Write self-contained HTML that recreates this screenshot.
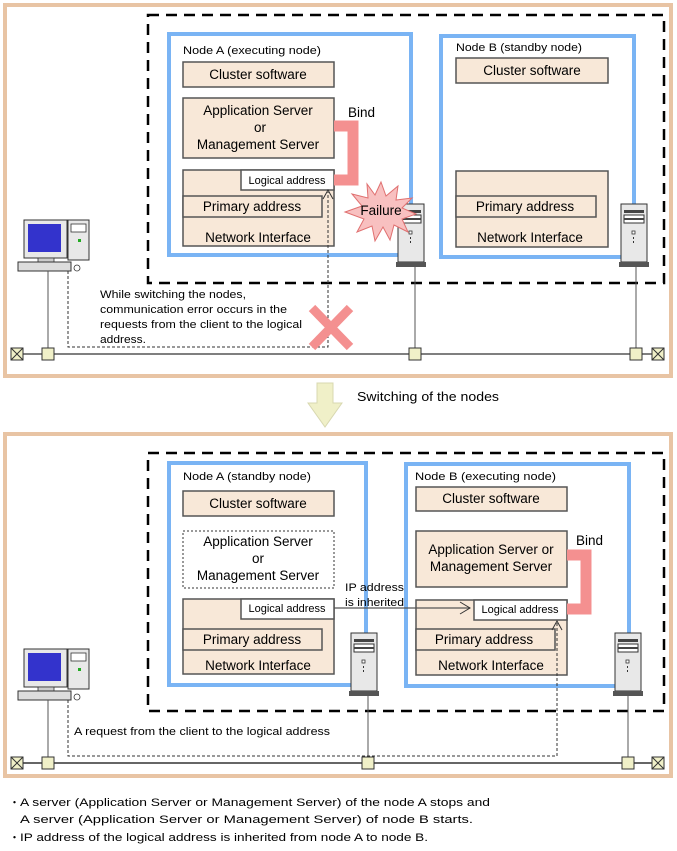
<!DOCTYPE html>
<html><head><meta charset="utf-8"><style>
html,body{margin:0;padding:0;background:#fff;}
svg{display:block;font-family:"Liberation Sans",Arial,sans-serif;}
.b{fill:#f8e8d8;stroke:#555;stroke-width:1.5;}
.t{font-size:13.5px;fill:#000;text-anchor:middle;}
.s{font-size:11px;fill:#000;}
.m{font-size:12.5px;fill:#000;}
</style></head><body>
<svg width="677" height="851" viewBox="0 0 677 851" xmlns="http://www.w3.org/2000/svg">
<defs>
<g id="srv">
 <rect x="0" y="0" width="26" height="58" fill="#e8e8e8" stroke="#333" stroke-width="1"/>
 <rect x="3" y="6" width="20" height="3" fill="#444"/>
 <rect x="3" y="11" width="20" height="8" fill="#fff" stroke="#333" stroke-width="1"/>
 <rect x="3" y="14" width="20" height="2" fill="#444"/>
 <rect x="11" y="27" width="3" height="3" fill="#fff" stroke="#333" stroke-width="0.8"/>
 <line x1="12.5" y1="33" x2="12.5" y2="40" stroke="#333" stroke-dasharray="2,2"/>
 <rect x="-2" y="58" width="30" height="5" fill="#555"/>
</g>
<g id="pc">
 <rect x="0" y="0" width="43" height="38" fill="#e8e8e8" stroke="#333"/>
 <rect x="4" y="4" width="33" height="28" fill="#3333cc"/>
 <rect x="14" y="38" width="16" height="4" fill="#ccc" stroke="#333" stroke-width="0.8"/>
 <rect x="44" y="0" width="21" height="40" fill="#e8e8e8" stroke="#333"/>
 <rect x="47" y="4" width="15" height="8" fill="#fff" stroke="#333" stroke-width="0.8"/>
 <rect x="54" y="19" width="3" height="3" fill="#2a2"/>
 <rect x="-6" y="42" width="53" height="9" fill="#ddd" stroke="#333"/>
 <circle cx="53" cy="48" r="3" fill="#fff" stroke="#333" stroke-width="0.8"/>
</g>
<g id="term"><rect x="-6" y="-6" width="12" height="12" fill="#f0f0c8" stroke="#333"/><path d="M-6,-6L6,6M6,-6L-6,6" stroke="#333"/></g>
<g id="con"><rect x="-6" y="-6" width="12" height="12" fill="#f0f0c8" stroke="#333"/></g>
</defs>

<!-- TOP PANEL -->
<rect x="5" y="5" width="666" height="371" fill="#fff" stroke="#e8c4a4" stroke-width="4"/>
<rect x="148" y="15" width="516" height="268" fill="none" stroke="#000" stroke-width="2.5" stroke-dasharray="11,7"/>
<rect x="169" y="34" width="242" height="221" fill="none" stroke="#7ab4f4" stroke-width="4"/>
<rect x="441" y="36" width="193" height="221" fill="none" stroke="#7ab4f4" stroke-width="4"/>
<text x="183" y="54" class="s" font-size="12" textLength="138" lengthAdjust="spacingAndGlyphs">Node A (executing node)</text>
<text x="456" y="51" class="s" font-size="12" textLength="126" lengthAdjust="spacingAndGlyphs">Node B (standby node)</text>
<rect x="183" y="62" width="151" height="25" class="b"/><text x="258" y="79" class="t">Cluster software</text>
<rect x="183" y="98" width="151" height="60" class="b"/>
<text x="258" y="115" class="t">Application Server</text><text x="260" y="132" class="t">or</text><text x="258" y="149" class="t">Management Server</text>
<rect x="183" y="170" width="151" height="76" class="b"/>
<rect x="241" y="170" width="93" height="20" fill="#fff" stroke="#555" stroke-width="1.5"/>
<text x="287" y="184" class="s" text-anchor="middle">Logical address</text>
<rect x="183" y="196" width="139" height="21" class="b"/><text x="252" y="211" class="t">Primary address</text>
<text x="258" y="242" class="t">Network Interface</text>
<path d="M334,126H353V180H334" fill="none" stroke="#f49090" stroke-width="11"/>
<text x="348" y="117" style="font-size:13.5px;text-anchor:start">Bind</text>
<!-- Node B boxes -->
<rect x="456" y="58" width="152" height="25" class="b"/><text x="532" y="75" class="t">Cluster software</text>
<rect x="456" y="171" width="152" height="76" class="b"/>
<rect x="456" y="196" width="140" height="21" class="b"/><text x="525" y="211" class="t">Primary address</text>
<text x="530" y="242" class="t">Network Interface</text>
<!-- servers -->
<use href="#srv" x="398" y="204"/>
<use href="#srv" x="621" y="204"/>
<!-- failure -->
<polygon points="381,182 386,196 398,186 396,200 412,198 402,208 416,214 402,219 408,232 394,225 390,240 383,227 375,241 372,226 357,232 364,219 345,212 362,206 352,194 368,198 367,184 375,195" fill="#f8c0c0" stroke="#e07070" stroke-width="1"/>
<text x="381" y="215" class="t">Failure</text>
<use href="#pc" x="24" y="220"/>
<!-- network -->
<line x1="17" y1="354" x2="658" y2="354" stroke="#555" stroke-width="1.5"/>
<line x1="48" y1="271" x2="48" y2="348" stroke="#555"/>
<line x1="415" y1="267" x2="415" y2="348" stroke="#555"/>
<line x1="636" y1="267" x2="636" y2="348" stroke="#555"/>
<use href="#term" x="17" y="354"/><use href="#term" x="658" y="354"/>
<use href="#con" x="48" y="354"/><use href="#con" x="415" y="354"/><use href="#con" x="636" y="354"/>
<path d="M68,271V347H328V192" fill="none" stroke="#333" stroke-dasharray="3,2"/>
<path d="M323,199L328,190L333,199" fill="none" stroke="#333"/>
<path d="M312,308L350,347M350,308L312,347" stroke="#f49090" stroke-width="9"/>
<text class="s" font-size="12.5" lengthAdjust="spacingAndGlyphs" x="100" y="298" textLength="146">While switching the nodes,</text>
<text class="s" font-size="12.5" lengthAdjust="spacingAndGlyphs" x="100" y="313" textLength="187">communication error occurs in the</text>
<text class="s" font-size="12.5" lengthAdjust="spacingAndGlyphs" x="100" y="328" textLength="202">requests from the client to the logical</text>
<text class="s" font-size="12.5" lengthAdjust="spacingAndGlyphs" x="100" y="343" textLength="46">address.</text>

<!-- ARROW -->
<polygon points="317,383 333,383 333,403 342,403 325,427 308,403 317,403" fill="#f0f0c8" stroke="#d8d8b0"/>
<text x="357" y="401" class="m" textLength="142" lengthAdjust="spacingAndGlyphs">Switching of the nodes</text>

<!-- BOTTOM PANEL -->
<rect x="5" y="434" width="666" height="342" fill="#fff" stroke="#e8c4a4" stroke-width="4"/>
<rect x="148" y="453" width="516" height="258" fill="none" stroke="#000" stroke-width="2.5" stroke-dasharray="11,7"/>
<rect x="169" y="463" width="197" height="222" fill="none" stroke="#7ab4f4" stroke-width="4"/>
<rect x="406" y="464" width="223" height="222" fill="none" stroke="#7ab4f4" stroke-width="4"/>
<text x="183" y="480" class="s" font-size="12" textLength="128" lengthAdjust="spacingAndGlyphs">Node A (standby node)</text>
<text x="415" y="480" class="s" font-size="12" textLength="141" lengthAdjust="spacingAndGlyphs">Node  B (executing node)</text>
<rect x="183" y="491" width="151" height="25" class="b"/><text x="258" y="508" class="t">Cluster software</text>
<rect x="183" y="531" width="151" height="57" fill="#fff" stroke="#333" stroke-dasharray="2,2"/>
<text x="258" y="546" class="t">Application Server</text><text x="258" y="563" class="t">or</text><text x="258" y="580" class="t">Management Server</text>
<rect x="183" y="599" width="151" height="75" class="b"/>
<rect x="241" y="599" width="93" height="20" fill="#fff" stroke="#555" stroke-width="1.5"/>
<text x="287" y="612" class="s" text-anchor="middle">Logical address</text>
<rect x="183" y="629" width="139" height="21" class="b"/><text x="252" y="644" class="t">Primary address</text>
<text x="258" y="670" class="t">Network Interface</text>
<rect x="416" y="487" width="151" height="24" class="b"/><text x="491" y="503" class="t">Cluster software</text>
<rect x="416" y="531" width="151" height="56" class="b"/>
<text x="491" y="554" class="t">Application Server or</text><text x="491" y="571" class="t">Management Server</text>
<rect x="416" y="600" width="151" height="75" class="b"/>
<rect x="474" y="600" width="93" height="20" fill="#fff" stroke="#555" stroke-width="1.5"/>
<text x="520" y="613" class="s" text-anchor="middle">Logical address</text>
<rect x="416" y="629" width="139" height="21" class="b"/><text x="484" y="644" class="t">Primary address</text>
<text x="491" y="670" class="t">Network Interface</text>
<path d="M567,555H586V609H567" fill="none" stroke="#f49090" stroke-width="11"/>
<text x="576" y="545" style="font-size:13.5px;text-anchor:start">Bind</text>
<line x1="334" y1="608" x2="470" y2="608" stroke="#555" stroke-width="1.2"/>
<path d="M460,602L470,608L460,614" fill="none" stroke="#333"/>
<text class="s" font-size="12" lengthAdjust="spacingAndGlyphs" x="345" y="591" textLength="59">IP address</text>
<text class="s" font-size="12" lengthAdjust="spacingAndGlyphs" x="345" y="606" textLength="59">is inherited</text>
<use href="#srv" x="351" y="633"/>
<use href="#srv" x="615" y="633"/>
<use href="#pc" x="24" y="649"/>
<line x1="17" y1="763" x2="658" y2="763" stroke="#333" stroke-width="1.5"/>
<line x1="48" y1="700" x2="48" y2="757" stroke="#555"/>
<line x1="368" y1="696" x2="368" y2="757" stroke="#555"/>
<line x1="628" y1="696" x2="628" y2="757" stroke="#555"/>
<use href="#term" x="17" y="763"/><use href="#term" x="658" y="763"/>
<use href="#con" x="48" y="763"/><use href="#con" x="368" y="763"/><use href="#con" x="628" y="763"/>
<path d="M68,700V756H557V623" fill="none" stroke="#333" stroke-dasharray="3,2"/>
<path d="M552,630L557,621L562,630" fill="none" stroke="#333"/>
<text x="74" y="735" class="s" font-size="12.5" textLength="256" lengthAdjust="spacingAndGlyphs">A request from the client to the logical address</text>

<text class="s" font-size="12.5" x="9" y="806">・</text>
<text class="s" font-size="12.5" x="20" y="806" textLength="470" lengthAdjust="spacingAndGlyphs">A server (Application Server or Management Server) of the node A stops and</text>
<text class="s" font-size="12.5" x="20" y="823" textLength="453" lengthAdjust="spacingAndGlyphs">A server (Application Server or Management Server) of node B starts.</text>
<text class="s" font-size="12.5" x="9" y="841">・</text>
<text class="s" font-size="12.5" x="20" y="841" textLength="408" lengthAdjust="spacingAndGlyphs">IP address of the logical address is inherited from node A to node B.</text>
</svg>
</body></html>
